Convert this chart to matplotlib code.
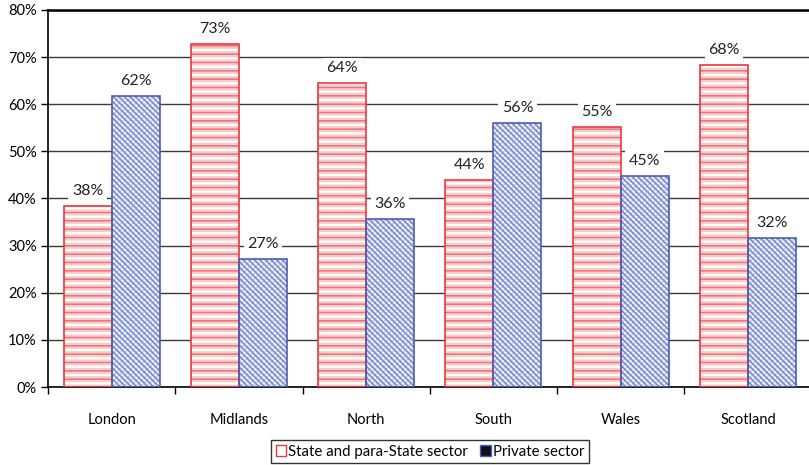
import matplotlib.pyplot as plt
import numpy as np
from matplotlib.patches import Patch

plt.rcParams['font.family'] = ['Lato', 'DejaVu Sans']
plt.rcParams['hatch.linewidth'] = 1.3

regions = ['London', 'Midlands', 'North', 'South', 'Wales', 'Scotland']
state = [38.3, 72.8, 64.4, 44.0, 55.2, 68.4]
private = [61.7, 27.2, 35.6, 56.0, 44.8, 31.6]
series_names = ['State and para-State sector', 'Private sector']

red = '#e8383d'
blue = '#4a5fb3'

fig = plt.figure(figsize=(8.09, 4.65), dpi=100)
ax = fig.add_axes([0.0593, 0.1677, 0.944, 0.811])

x = np.arange(len(regions))
w = 0.377

# state bars: faint pink lines under stronger red lines, then the outline
ax.bar(x - w / 2, state, w, color='white', edgecolor='#f6c9cb', hatch='----', lw=0, zorder=2)
ax.bar(x - w / 2, state, w, color='none', edgecolor='#ec7377', hatch='--', lw=0, zorder=3)
ax.bar(x - w / 2, state, w, color='none', edgecolor=red, lw=1.2, zorder=4)

# private bars: fine diagonal texture
ax.bar(x + w / 2, private, w, color='#f2f4fb', edgecolor='#c9d0ec', hatch='//////', lw=0, zorder=2)
with plt.rc_context({'hatch.linewidth': 1.0}):
    ax.bar(x + w / 2, private, w, color='none', edgecolor='#6f80c4', hatch='\\\\\\\\\\\\', lw=0, zorder=3)
ax.bar(x + w / 2, private, w, color='none', edgecolor=blue, lw=1.2, zorder=4)

for xs, vals in ((x - w / 2, state), (x + w / 2, private)):
    for xi, v in zip(xs, vals):
        ax.text(xi, v + 3.2, '%d%%' % round(v), ha='center', va='center', fontsize=11.5,
                color='#222222', zorder=5,
                bbox=dict(facecolor='white', edgecolor='none', pad=2.5))

ax.set_xlim(-0.5, len(regions) - 0.5)
ax.set_ylim(0, 80)
ax.set_yticks(np.arange(0, 81, 10))
ax.set_yticklabels(['%d%%' % t for t in range(0, 81, 10)], fontsize=10.5)
ax.yaxis.grid(True, color='#3a3a3a', lw=1)
ax.set_axisbelow(True)

ax.set_xticks(np.arange(-0.5, len(regions), 1))
ax.set_xticklabels([])
ax.set_xticks(x, minor=True)
ax.set_xticklabels(regions, minor=True, fontsize=10.5)
ax.tick_params(axis='x', which='minor', length=0, pad=19)
ax.tick_params(axis='x', which='major', length=5, direction='out', width=1)
ax.tick_params(axis='y', length=5, direction='out', width=1, pad=3)

ax.spines['right'].set_visible(False)
ax.spines['top'].set_linewidth(1.8)
ax.spines['left'].set_linewidth(1.2)
ax.spines['bottom'].set_linewidth(1.2)

handles = [Patch(facecolor='white', edgecolor=red, lw=1),
           Patch(facecolor='#101020', edgecolor=blue, lw=1)]
leg = fig.legend(handles, series_names, loc='center', bbox_to_anchor=(0.5315, 0.028),
                 ncol=2, fontsize=10.8, frameon=True, fancybox=False, edgecolor='black',
                 handlelength=0.7, handleheight=0.7, handletextpad=0.15,
                 columnspacing=0.8, borderpad=0.3, borderaxespad=0)
leg.get_frame().set_linewidth(1)

fig.savefig('out.png', dpi=100)
